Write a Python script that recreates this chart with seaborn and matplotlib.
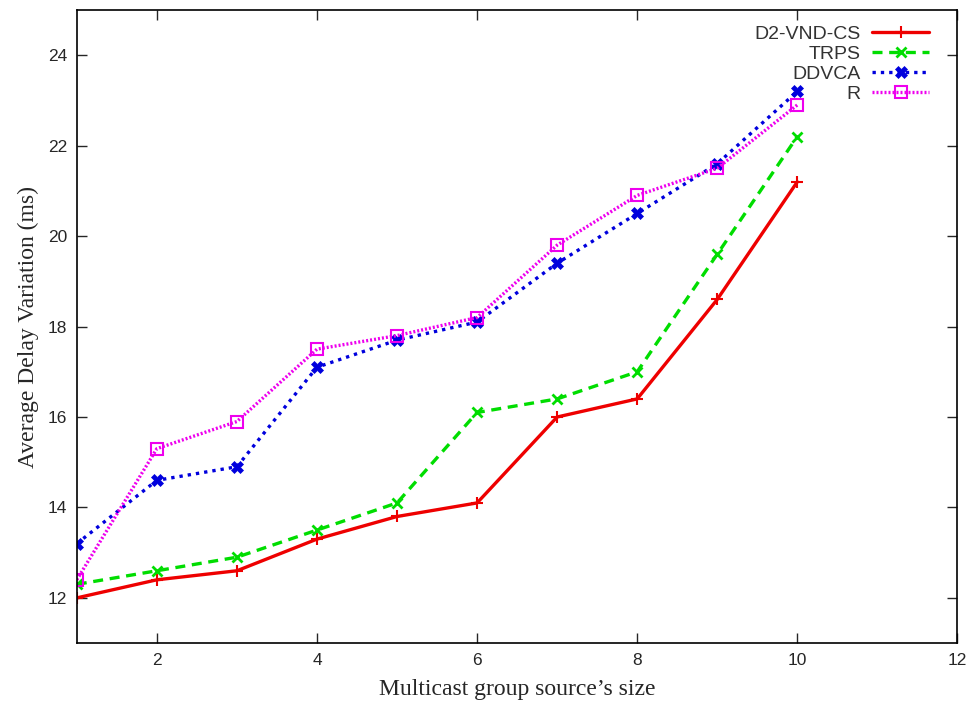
import numpy as np
import pandas as pd
import seaborn as sns
import matplotlib.pyplot as plt

# group source sizes
sizes = [1, 2, 3, 4, 5, 6, 7, 8, 9, 10]

# average delay variation (ms) per algorithm
d2_vnd_cs = [12.0, 12.4, 12.6, 13.3, 13.8, 14.1, 16.0, 16.4, 18.6, 21.2]
trps = [12.3, 12.6, 12.9, 13.5, 14.1, 16.1, 16.4, 17.0, 19.6, 22.2]
ddvca = [13.2, 14.6, 14.9, 17.1, 17.7, 18.1, 19.4, 20.5, 21.6, 23.2]
r_alg = [12.4, 15.3, 15.9, 17.5, 17.8, 18.2, 19.8, 20.9, 21.5, 22.9]

series_names = ["D2-VND-CS", "TRPS", "DDVCA", "R"]
series_vals = [d2_vnd_cs, trps, ddvca, r_alg]

df = pd.DataFrame({
    "size": sizes * len(series_names),
    "delay": np.concatenate(series_vals),
    "algo": np.repeat(series_names, len(sizes)),
})

sns.set_style("ticks")

colors = {"D2-VND-CS": "#ee0000", "TRPS": "#00dd00", "DDVCA": "#0000dd", "R": "#ee00ee"}
styles = {
    "D2-VND-CS": dict(ls="-", marker="+", ms=9, mew=1.5, mfc="none"),
    "TRPS": dict(ls=(0, (3, 2)), marker="x", ms=7, mew=2, mfc="none"),
    "DDVCA": dict(ls=(0, (1, 1.5)), marker="X", ms=8, mew=0.5, mfc=None),
    "R": dict(ls=(0, (0.6, 0.6)), marker="s", ms=8, mew=1.5, mfc="none"),
}

fig = plt.figure(figsize=(9.72, 7.13), dpi=100)
ax = fig.add_axes([0.079, 0.098, 0.906, 0.888])

for name in series_names:
    sub = df[df["algo"] == name]
    st = styles[name]
    sns.lineplot(data=sub, x="size", y="delay", ax=ax, color=colors[name],
                 label=name, lw=2.4, linestyle=st["ls"], marker=st["marker"],
                 markersize=st["ms"], markeredgewidth=st["mew"],
                 markerfacecolor=st["mfc"] if st["mfc"] else colors[name],
                 markeredgecolor=colors[name])

ax.set_xlim(1, 12)
ax.set_ylim(11, 25)
ax.set_xticks([2, 4, 6, 8, 10, 12])
ax.set_yticks([12, 14, 16, 18, 20, 22, 24])
ax.tick_params(direction="in", top=True, right=True, length=7, width=1,
               labelsize=12.5, pad=7)
for lab in ax.get_xticklabels() + ax.get_yticklabels():
    lab.set_fontfamily("Liberation Sans")
for sp in ax.spines.values():
    sp.set_linewidth(1.2)
    sp.set_color("black")

ax.set_xlabel("Multicast group source\u2019s size", fontsize=17,
              fontfamily="Liberation Serif", labelpad=8)
ax.set_ylabel("Average Delay Variation (ms)", fontsize=17,
              fontfamily="Liberation Serif", labelpad=6)

leg = ax.legend(loc="upper right", bbox_to_anchor=(0.972, 0.982),
                frameon=False, markerfirst=False,
                prop={"family": "Liberation Sans", "size": 14},
                handlelength=2.9, handletextpad=0.6, labelspacing=0.12,
                borderaxespad=0, borderpad=0.2)
for t in leg.get_texts():
    t.set_ha("right")
    t.set_color("#333333")

fig.savefig("out.png", dpi=100)
